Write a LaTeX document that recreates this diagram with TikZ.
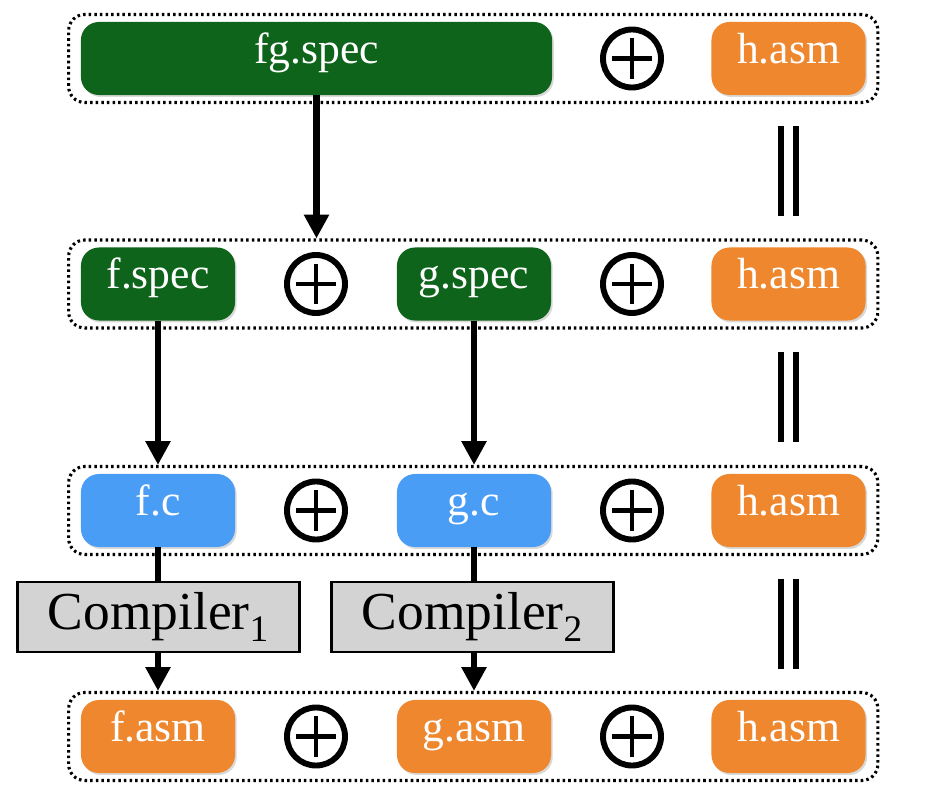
\documentclass[tikz,border=0pt]{standalone}
\usepackage{fontspec}
\setmainfont{Liberation Serif}
\usetikzlibrary{positioning, calc, fit, shadows, arrows.meta}
\definecolor{specgreen}{RGB}{13,100,26}
\definecolor{cblue}{RGB}{74,157,245}
\definecolor{asmorange}{RGB}{238,135,46}
\definecolor{compgray}{RGB}{211,211,211}
\tikzset{
    file/.style={rounded corners=0.45cm, minimum width=3.85cm, minimum height=1.825cm, inner sep=0pt,
        text height=19pt, text depth=12.4pt,
        text=white, font=\fontsize{31}{36}\selectfont,
        drop shadow={shadow xshift=1.2pt, shadow yshift=-1.4pt, opacity=0.3}},
    spec/.style={file, fill=specgreen},
    csrc/.style={file, fill=cblue},
    asm/.style={file, fill=asmorange},
    oplus/.style={circle, draw, line width=4.2pt, minimum size=1.45cm, inner sep=0pt,
        path picture={\draw[line width=3.4pt] ($(path picture bounding box.center)+(-0.5cm,0)$) -- ++(1cm,0)
            ($(path picture bounding box.center)+(0,-0.5cm)$) -- ++(0,1cm);}},
    group/.style={draw, line width=2.2pt, dash pattern=on 1.8pt off 2.2pt, rounded corners=0.4cm,
        inner xsep=0.3cm, inner ysep=0.18cm},
    comp/.style={draw, line width=2pt, fill=compgray, minimum width=7.05cm, minimum height=1.75cm,
        inner sep=0pt, font=\fontsize{38}{42}\selectfont},
    link/.style={line width=4.5pt},
    flow/.style={link, -{Triangle[length=17pt, width=17pt]}},
    eqbar/.style={line width=4.3pt}
}
\begin{document}
\begin{tikzpicture}[x=0.025cm, y=-0.025cm]
    \useasboundingbox (0,0) rectangle (948,793);

    %Row 1
    \node[spec, minimum width=11.775cm] (fg) at (316.5,58.5) {fg.spec};
    \node[oplus] (p1) at (632,58.5) {};
    \node[asm] (h1) at (788.5,58.5) {h.asm};

    %Row 2
    \node[spec] (fspec) at (158,284) {f.spec};
    \node[oplus] (p2a) at (316,284) {};
    \node[spec] (gspec) at (474,284) {g.spec};
    \node[oplus] (p2b) at (632,284) {};
    \node[asm] (h2) at (788.5,284) {h.asm};

    %Row 3
    \node[csrc] (fc) at (158,510.5) {f.c};
    \node[oplus] (p3a) at (316,510.5) {};
    \node[csrc] (gc) at (474,510.5) {g.c};
    \node[oplus] (p3b) at (632,510.5) {};
    \node[asm] (h3) at (788.5,510.5) {h.asm};

    %Row 4
    \node[asm] (fasm) at (158,736.5) {f.asm};
    \node[oplus] (p4a) at (316,736.5) {};
    \node[asm] (gasm) at (474,736.5) {g.asm};
    \node[oplus] (p4b) at (632,736.5) {};
    \node[asm] (h4) at (788.5,736.5) {h.asm};

    %Dotted groups
    \node[group, fit=(fg)(h1)] (row1) {};
    \node[group, fit=(fspec)(h2)] (row2) {};
    \node[group, fit=(fc)(h3)] (row3) {};
    \node[group, fit=(fasm)(h4)] (row4) {};

    %Compilers
    \node[comp] (comp1) at (158.5,617) {Compiler\textsubscript{1}};
    \node[comp] (comp2) at (472.5,617) {Compiler\textsubscript{2}};

    %Arrows
    \draw[flow] (fg.south) -- (fg.south |- row2.north);
    \draw[flow] (fspec.south) -- (fspec.south |- row3.north);
    \draw[flow] (gspec.south) -- (gspec.south |- row3.north);
    \draw[link] (fc.south) -- (fc.south |- comp1.north);
    \draw[link] (gc.south) -- (gc.south |- comp2.north);
    \draw[flow] (fc.south |- comp1.south) -- (fc.south |- row4.north);
    \draw[flow] (gc.south |- comp2.south) -- (gc.south |- row4.north);

    %Equalities
    \foreach \a/\b in {h1/h2, h2/h3, h3/h4}{
        \coordinate (m) at ($(\a.south)!.5!(\b.north)$);
        \draw[eqbar] ($(m)+(-7.5,-45)$) -- ++(0,90);
        \draw[eqbar] ($(m)+(7.5,-45)$) -- ++(0,90);
    }
\end{tikzpicture}
\end{document}
